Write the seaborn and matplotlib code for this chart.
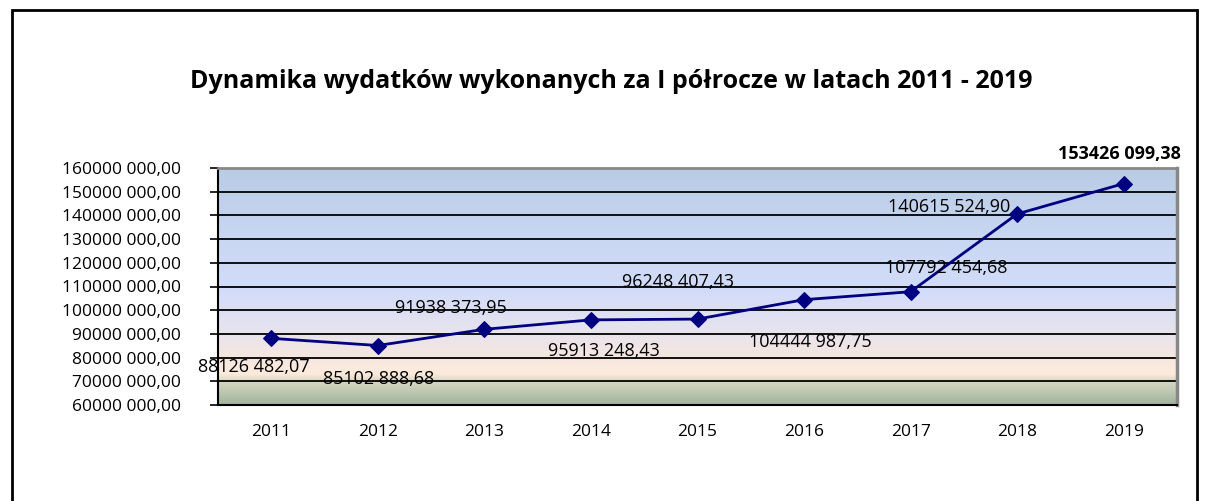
import numpy as np
import pandas as pd
import matplotlib.pyplot as plt
import seaborn as sns
from matplotlib.colors import LinearSegmentedColormap
from matplotlib.patches import Rectangle

# Data
years = ['2011', '2012', '2013', '2014', '2015', '2016', '2017', '2018', '2019']
values = [88126482.07, 85102888.68, 91938373.95, 95913248.43, 96248407.43,
          104444987.75, 107792454.68, 140615524.90, 153426099.38]
# label offsets in pixels (dx, dy)
label_dx = [-17, 1, -34, 13, -19, 6, 36, -68, -4]
label_dy = [-29, -33, 21, -31, 37, -42, 24, 7, 30]

def fmt(v):
    cents = int(round(v * 100)) % 100
    whole = int(v)
    return f"{whole // 1000} {whole % 1000:03d},{cents:02d}"

df = pd.DataFrame({'rok': years, 'wydatki': values})

sns.set_style('white')
plt.rcParams['font.family'] = ['Open Sans', 'DejaVu Sans']
plt.rcParams['text.color'] = 'black'
plt.rcParams['xtick.color'] = 'black'
plt.rcParams['ytick.color'] = 'black'

fig = plt.figure(figsize=(12.05, 5.01), dpi=100)
ax = fig.add_axes([218 / 1205, 1 - 405 / 501, (1177 - 218) / 1205, (405 - 168) / 501])

# gradient background
stops = [(0.0, '#A0B39C'), (0.10, '#D8D8C4'), (0.13, '#FDEBDC'),
         (0.22, '#F3E6E2'), (0.32, '#E6E3EF'), (0.48, '#D2DCF9'),
         (0.70, '#C9D7F2'), (1.0, '#B8CCE4')]
cmap = LinearSegmentedColormap.from_list('bg', stops)
grad = np.linspace(0, 1, 256).reshape(-1, 1)
ax.imshow(grad, cmap=cmap, origin='lower', aspect='auto',
          extent=[-0.5, 8.5, 60e6, 160e6], zorder=0)

sns.lineplot(data=df, x='rok', y='wydatki', ax=ax, color='#000080',
             marker='D', markersize=8, markeredgecolor='#000080',
             linewidth=2, zorder=3)

for i, (v, dx, dy) in enumerate(zip(values, label_dx, label_dy)):
    ax.annotate(fmt(v), (i, v), xytext=(dx, dy), textcoords='offset pixels',
                ha='center', va='center', fontsize=13, color='black', zorder=4,
                fontweight='bold' if i == len(values) - 1 else 'normal')

ax.set_xlim(-0.5, 8.5)
ax.set_ylim(60e6, 160e6)
yt = np.arange(60e6, 160e6 + 1, 10e6)
ax.set_yticks(yt)
ax.set_yticklabels([fmt(t) for t in yt], fontsize=12.5)
ax.set_xticks(range(len(years)))
ax.set_xticklabels(years, fontsize=12.5)
ax.set_xticks(np.arange(-0.5, 9, 1), minor=True)
ax.tick_params(axis='x', which='major', length=0, pad=14)
ax.tick_params(axis='x', which='minor', length=6, width=1.2, direction='out', color='black')
ax.tick_params(axis='y', length=6, width=1.2, direction='out', color='black', left=True, pad=21)
ax.grid(False)
for t in yt[1:-1]:
    ax.axhline(t, color='black', linewidth=1.3, zorder=1)
ax.set_xlabel('')
ax.set_ylabel('')
ax.spines['left'].set_color('black')
ax.spines['bottom'].set_color('black')
ax.spines['left'].set_linewidth(1.5)
ax.spines['bottom'].set_linewidth(1.5)
ax.spines['top'].set_color('#888888')
ax.spines['right'].set_color('#888888')
ax.spines['top'].set_linewidth(2)
ax.spines['right'].set_linewidth(2.5)

fig.text(611 / 1205, 1 - 82 / 501, 'Dynamika wydatków wykonanych za I półrocze w latach 2011 - 2019',
         ha='center', va='center', fontsize=18, fontweight='bold', color='black')

fig.patches.append(Rectangle((12 / 1205, -0.05), (1197 - 12) / 1205, 1.05 - 10 / 501,
                             transform=fig.transFigure, fill=False,
                             edgecolor='black', linewidth=2))

plt.savefig('out.png', dpi=100)
plt.close()
